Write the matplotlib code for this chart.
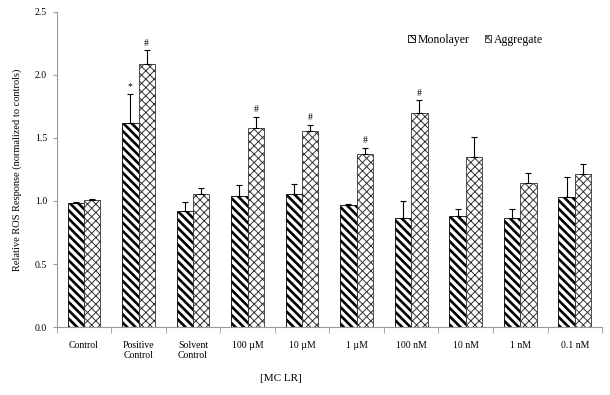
import numpy as np
import matplotlib
matplotlib.use('Agg')
import matplotlib.pyplot as plt

plt.rcParams['font.family'] = ['Liberation Serif', 'DejaVu Serif']

categories = ['Control', 'Positive\nControl', 'Solvent\nControl', '100 µM', '10 µM',
              '1 µM', '100 nM', '10 nM', '1 nM', '0.1 nM']
mono = [0.98, 1.62, 0.92, 1.04, 1.056, 0.968, 0.868, 0.883, 0.862, 1.032]
mono_err = [0.012, 0.23, 0.07, 0.085, 0.075, 0.006, 0.13, 0.05, 0.075, 0.155]
aggr = [1.01, 2.085, 1.056, 1.577, 1.553, 1.37, 1.698, 1.349, 1.14, 1.217]
aggr_err = [0.006, 0.11, 0.045, 0.09, 0.05, 0.05, 0.1, 0.155, 0.08, 0.075]
mono_marks = ['', '*', '', '', '', '', '', '', '', '']
aggr_marks = ['', '#', '', '#', '#', '#', '#', '', '', '']

fig = plt.figure(figsize=(6.1, 3.95), dpi=100)
ax = fig.add_axes([0.093, 0.172, 0.894, 0.798])

x = np.arange(len(categories))
w = 0.3

# hatch linewidth is picked up when each bar is created
plt.rcParams['hatch.linewidth'] = 1.9
b1 = ax.bar(x - w / 2, mono, w, color='white', edgecolor='black', hatch='\\\\\\\\',
            linewidth=0.6, label='Monolayer')
plt.rcParams['hatch.linewidth'] = 0.7
b2 = ax.bar(x + w / 2, aggr, w, color='white', edgecolor='#333333', hatch='xxxx',
            linewidth=0.6, label='Aggregate')

ax.errorbar(x - w / 2, mono, yerr=[np.zeros(len(mono)), mono_err], fmt='none',
            ecolor='black', elinewidth=0.8, capsize=2, capthick=0.8)
ax.errorbar(x + w / 2, aggr, yerr=[np.zeros(len(aggr)), aggr_err], fmt='none',
            ecolor='black', elinewidth=0.8, capsize=2, capthick=0.8)

for i in range(len(categories)):
    if mono_marks[i]:
        ax.text(x[i] - w / 2, mono[i] + mono_err[i] + 0.02, mono_marks[i],
                ha='center', va='bottom', fontsize=7)
    if aggr_marks[i]:
        ax.text(x[i] + w / 2, aggr[i] + aggr_err[i] + 0.02, aggr_marks[i],
                ha='center', va='bottom', fontsize=7)

ax.set_xlim(-0.5, len(categories) - 0.5)
ax.set_ylim(0, 2.5)
ax.set_yticks(np.arange(0, 2.51, 0.5))
ax.set_yticklabels(['%.1f' % v for v in np.arange(0, 2.51, 0.5)], fontsize=7)
ax.set_xticks(x)
ax.set_xticklabels(categories, fontsize=7)
ax.tick_params(axis='x', length=0, pad=10)
ax.set_xticks(np.arange(-0.5, len(categories)), minor=True)
ax.tick_params(axis='x', which='minor', length=4, color='#999999', direction='out')
ax.tick_params(axis='y', length=3, color='#999999', pad=4)

for s in ['top', 'right']:
    ax.spines[s].set_visible(False)
for s in ['left', 'bottom']:
    ax.spines[s].set_color('#999999')
    ax.spines[s].set_linewidth(0.8)

ax.set_ylabel('Relative ROS Response (normalized to controls)', fontsize=7.5, labelpad=9)
fig.text(0.46, 0.035, '[MC LR]', fontsize=8, ha='center')

ax.legend(loc='upper left', bbox_to_anchor=(0.625, 0.965), ncol=2, frameon=False,
          fontsize=8.5, handlelength=0.55, handleheight=0.55, handletextpad=0.25,
          columnspacing=1.3)

fig.savefig('out.png', dpi=100)
